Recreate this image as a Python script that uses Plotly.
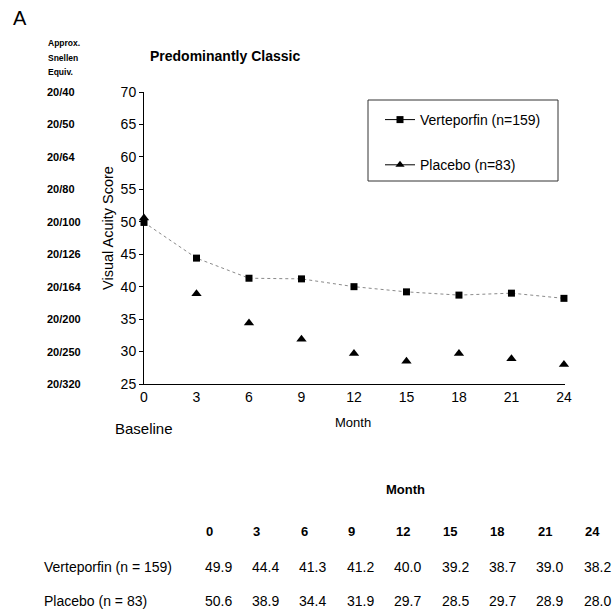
import plotly.graph_objects as go

months = [0, 3, 6, 9, 12, 15, 18, 21, 24]
verteporfin = [49.9, 44.4, 41.3, 41.2, 40.0, 39.2, 38.7, 39.0, 38.2]
placebo = [50.6, 38.9, 34.4, 31.9, 29.7, 28.5, 29.7, 28.9, 28.0]
y_ticks = [25, 30, 35, 40, 45, 50, 55, 60, 65, 70]
snellen = ["20/320", "20/250", "20/200", "20/164", "20/126", "20/100", "20/80", "20/64", "20/50", "20/40"]
table_header = ["0", "3", "6", "9", "12", "15", "18", "21", "24"]
row_labels = ["Verteporfin (n = 159)", "Placebo (n = 83)"]
series_names = ["Verteporfin (n=159)", "Placebo (n=83)"]

FONT = "Liberation Sans, Arial, sans-serif"

W, H = 613, 615
L, R, T, B = 144, 48, 92, 231

fig = go.Figure()
fig.add_trace(go.Scatter(
    x=months, y=verteporfin, mode="lines+markers", showlegend=False,
    line=dict(color="#8a8a8a", width=1, dash="dot"),
    marker=dict(symbol="square", size=7, color="black"), cliponaxis=False))
fig.add_trace(go.Scatter(
    x=months, y=placebo, mode="markers", showlegend=False,
    marker=dict(symbol="triangle-up", size=9, color="black"), cliponaxis=False))
# legend entries
fig.add_trace(go.Scatter(
    x=[None], y=[None], mode="lines+markers", name=series_names[0], legendgroup="a",
    line=dict(color="black", width=1), marker=dict(symbol="square", size=7, color="black")))
fig.add_trace(go.Scatter(
    x=[None], y=[None], mode="lines+markers", name=series_names[1], legendgroup="b",
    line=dict(color="black", width=1), marker=dict(symbol="triangle-up", size=8, color="black")))

def px(xp):
    return (xp - L) / (W - L - R)
def py(yp):
    return (H - B - yp) / (H - T - B)

fig.update_layout(
    width=W, height=H,
    margin=dict(l=L, r=R, t=T, b=B, autoexpand=False),
    paper_bgcolor="white", plot_bgcolor="white",
    font=dict(family=FONT, color="black", size=12),
    showlegend=True,
    legend=dict(x=px(380), y=py(104), xanchor="left", yanchor="top",
                borderwidth=0, bgcolor="rgba(0,0,0,0)",
                font=dict(size=14, family=FONT), tracegroupgap=24),
    xaxis=dict(range=[0, 24.06], tickvals=months, ticktext=[str(m) for m in months],
               showline=True, linecolor="black", linewidth=1, showgrid=False,
               zeroline=False, ticks="", tickfont=dict(size=14, family=FONT)),
    yaxis=dict(range=[25, 70], tickvals=y_ticks, ticktext=[str(v) for v in y_ticks],
               showline=True, linecolor="black", linewidth=1, showgrid=False,
               zeroline=False, ticks="outside", ticklen=4, tickcolor="black",
               tickfont=dict(size=14, family=FONT)),
    shapes=[dict(type="rect", xref="paper", yref="paper",
                 x0=px(368), x1=px(558), y0=py(181), y1=py(100),
                 line=dict(color="#333", width=1))],
)

ann = []
def add(text, xp, yp, size=12, bold=False, xanchor="left", yanchor="middle", angle=0):
    t = f"<b>{text}</b>" if bold else text
    ann.append(dict(x=px(xp), y=py(yp), xref="paper", yref="paper", text=t,
                    showarrow=False, xanchor=xanchor, yanchor=yanchor, textangle=angle,
                    font=dict(size=size, family=FONT, color="black")))

add("A", 11, 18, size=20)
add("Approx.", 46, 43, size=8.5, bold=True)
add("Snellen", 46, 58, size=8.5, bold=True)
add("Equiv.", 46, 72, size=8.5, bold=True)
add("Predominantly Classic", 148, 56, size=14, bold=True)
for v, s in zip(y_ticks, snellen):
    yp = 384 - (v - 25) / 45 * 292
    add(s, 45, yp, size=11, bold=True)
add("Baseline", 113, 428, size=15)
add("Month", 353, 422, size=13, xanchor="center")
add("Visual Acuity Score", 108, 228, size=14.5, xanchor="center", angle=-90)

# table
add("Month", 405, 490, size=13, bold=True, xanchor="center")
c0, dc = 218, 47.4
for i, h in enumerate(table_header):
    add(h, c0 - 14 + i * dc, 531, size=13, bold=True)
for r, (lab, vals) in enumerate(zip(row_labels, [verteporfin, placebo])):
    yp = 567 + r * 34
    add(lab, 42, yp, size=14)
    for i, v in enumerate(vals):
        add(f"{v:.1f}", c0 + i * dc, yp, size=14, xanchor="center")

fig.update_layout(annotations=ann)
fig.write_html("out.html", config={"displayModeBar": False},
               post_script="document.body.style.margin='0';document.body.style.overflow='hidden';")
